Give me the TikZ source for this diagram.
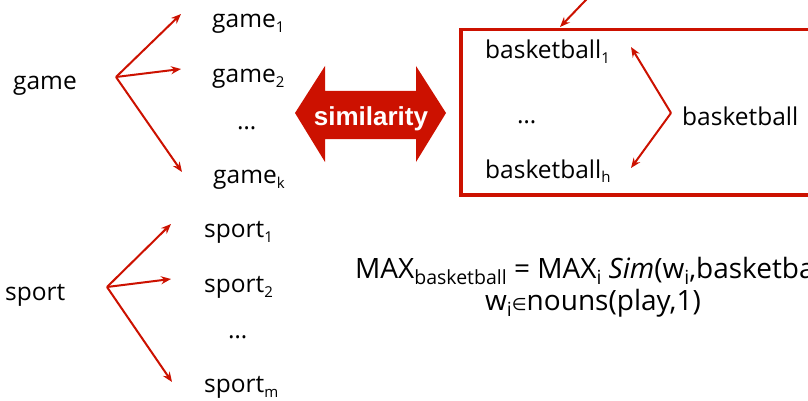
\documentclass[tikz,border=0pt]{standalone}
\usepackage{fontspec}
\setmainfont{Open Sans}
\newfontfamily\symfont{DejaVu Sans}
\newfontfamily\arialfont{Liberation Sans}
\usetikzlibrary{arrows.meta}
\definecolor{darkred}{RGB}{204,17,0}
\newcommand\sbx[1]{\raisebox{-5pt}{\fontsize{15}{15}\selectfont #1}}
\newcommand\sbm[1]{\raisebox{-6pt}{\fontsize{19.5}{19.5}\selectfont #1}}
\begin{document}
\begin{tikzpicture}[x=1pt,y=-1pt,
  txt/.style={anchor=base west, inner sep=0pt, font=\fontsize{24.5}{28}\selectfont},
  ftxt/.style={anchor=base west, inner sep=0pt, font=\fontsize{28}{32}\selectfont},
  arr/.style={draw=darkred, line width=2pt, -{Stealth[length=10pt,width=8pt]}}]
\useasboundingbox (0,0) rectangle (808,401);
\clip (0,0) rectangle (808,401);

% game tree
\node[txt] (game) at (13,90) {game};
\node[txt] (g1) at (212,28) {game\sbx{1}};
\node[txt] (g2) at (212,83) {game\sbx{2}};
\node[txt] (gd) at (237,130) {…};
\node[txt] (gk) at (213,183) {game\sbx{k}};
\coordinate (gb) at (116,77);
\coordinate (gt1) at (181,14);
\coordinate (gt2) at (181,69);
\coordinate (gtk) at (182,172);
\draw[arr] (gb) -- (gt1);
\draw[arr] (gb) -- (gt2);
\draw[arr] (gb) -- (gtk);

% sport tree
\node[txt] (sport) at (5,300) {sport};
\node[txt] (s1) at (204,237) {sport\sbx{1}};
\node[txt] (s2) at (204,292) {sport\sbx{2}};
\node[txt] (sd) at (228,338) {…};
\node[txt] (sm) at (204,392) {sport\sbx{m}};
\coordinate (sb) at (107,287);
\coordinate (st1) at (171,224);
\coordinate (st2) at (171,279);
\coordinate (stm) at (172,382);
\draw[arr] (sb) -- (st1);
\draw[arr] (sb) -- (st2);
\draw[arr] (sb) -- (stm);

% similarity double arrow
\fill[darkred] (295,113) -- (325,66) -- (325,91) -- (416,91) -- (416,66)
  -- (446,113) -- (416,162) -- (416,139) -- (325,139) -- (325,162) -- cycle;
\node[anchor=base, inner sep=0pt, text=white, font=\arialfont\bfseries\fontsize{26}{30}\selectfont] (sim) at (371,125) {similarity};

% basketball box
\node[draw=darkred, line width=3.5pt, anchor=north west, inner sep=0pt,
  minimum width=400pt, minimum height=165pt] (box) at (459,28) {};
\coordinate (topstart) at (605,-20);
\coordinate (toptip) at (560,27);
\draw[arr] (topstart) -- (toptip);
\node[txt] (b1) at (485,59) {basketball\sbx{1}};
\node[txt] (bd) at (517,124) {…};
\node[txt] (bh) at (485,178) {basketball\sbx{h}};
\node[txt] (bb) at (682,125) {basketball};
\coordinate (bv) at (671,113);
\coordinate (bt1) at (631,47);
\coordinate (bth) at (631,168);
\draw[arr] (bv) -- (bt1);
\draw[arr] (bv) -- (bth);

% formula
\node[ftxt] (f1) at (355,278) {MAX\sbm{basketball} = MAX\sbm{i} \textit{Sim}(w\sbm{i},basketball)};
\node[ftxt] (f2) at (485,310) {w\sbm{i}{\symfont\fontsize{17}{17}\selectfont ∈}nouns(play,1)};
\end{tikzpicture}
\end{document}
